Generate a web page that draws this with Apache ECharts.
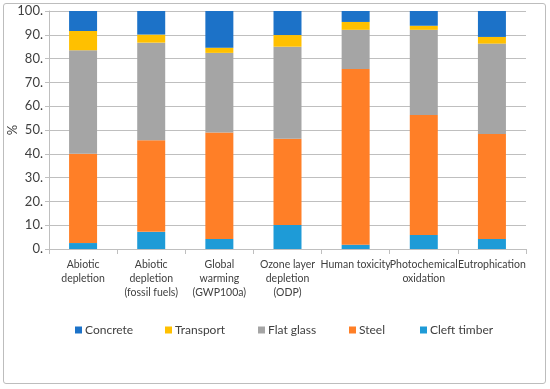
<!DOCTYPE html>
<html>
<head>
<meta charset="utf-8">
<script src="https://cdn.jsdelivr.net/npm/echarts@6/dist/echarts.min.js"></script>
<style>
html,body{margin:0;padding:0;background:#fff;}
#frame{position:absolute;left:3px;top:3px;width:543px;height:381px;border:1px solid #bdbdbd;border-radius:3px;box-sizing:border-box;}
#chart{position:absolute;left:0;top:0;width:550px;height:389px;}
</style>
</head>
<body>
<div id="frame"></div>
<div id="chart"></div>
<script>
const categories = ['Abiotic\ndepletion', 'Abiotic\ndepletion\n(fossil fuels)', 'Global\nwarming\n(GWP100a)', 'Ozone layer\ndepletion\n(ODP)', 'Human toxicity', 'Photochemical\noxidation', 'Eutrophication'];
const cleftTimber = [2.5, 7.2, 4.2, 10.1, 1.8, 5.9, 4.2];
const steel =       [37.5, 38.5, 44.7, 36.2, 73.8, 50.4, 44.1];
const flatGlass =   [43.5, 41.0, 33.5, 38.7, 16.5, 35.8, 38.0];
const transport =   [8.1, 3.4, 2.2, 4.9, 3.3, 1.7, 2.8];
const concrete =    [8.4, 9.9, 15.4, 10.1, 4.6, 6.2, 10.9];
const yTickLabels = ['0.', '10.', '20.', '30.', '40.', '50.', '60.', '70.', '80.', '90.', '100.'];
const legendOrder = ['Concrete', 'Transport', 'Flat glass', 'Steel', 'Cleft timber'];
const yAxisTitle = '%';

const font = 'Lato, "Noto Sans", sans-serif';
const legendLeft = [75, 165, 258, 349, 420];
const chart = echarts.init(document.getElementById('chart'));
function bar(name, data, color) {
  return { name, type: 'bar', stack: 'total', data, barWidth: 28,
    itemStyle: { color }, emphasis: { disabled: true } };
}
const legends = legendOrder.map((n, i) => ({
  data: [n], top: 324, left: legendLeft[i], icon: 'rect', padding: 0,
  itemWidth: 7, itemHeight: 7,
  textStyle: { fontFamily: font, fontSize: 12, color: '#404040', padding: [0,0,0,-2] }
}));
chart.setOption({
  animation: false,
  textStyle: { fontFamily: font },
  grid: { left: 49, right: 24, top: 11, bottom: 140, containLabel: false, outerBoundsMode: 'none' },
  legend: legends,
  graphic: [{
    type: 'text', x: 13, y: 130, rotation: Math.PI / 2, silent: true,
    style: { text: yAxisTitle, align: 'center', verticalAlign: 'middle',
      font: '13px Lato, "Noto Sans", sans-serif', fill: '#404040' }
  }],
  xAxis: {
    type: 'category', data: categories,
    axisLine: { lineStyle: { color: '#BFBFBF' } },
    axisTick: { show: true, length: 5, alignWithLabel: false, lineStyle: { color: '#BFBFBF' } },
    axisLabel: { interval: 0, color: '#404040', fontSize: 10.5, lineHeight: 14, margin: 9, fontFamily: font, hideOverlap: false }
  },
  yAxis: {
    type: 'value', min: 0, max: 100, interval: 10,
    axisLine: { show: true, lineStyle: { color: '#BFBFBF' } },
    axisTick: { show: true, length: 4, lineStyle: { color: '#BFBFBF' } },
    splitLine: { lineStyle: { color: '#BFBFBF' } },
    axisLabel: { color: '#404040', fontSize: 13, margin: 6, fontFamily: font,
      formatter: (v) => yTickLabels[Math.round(v / 10)] }
  },
  series: [
    bar('Cleft timber', cleftTimber, '#1E9BD7'),
    bar('Steel', steel, '#FF7F27'),
    bar('Flat glass', flatGlass, '#A5A5A5'),
    bar('Transport', transport, '#FFC000'),
    bar('Concrete', concrete, '#1C72C8')
  ]
});
</script>
</body>
</html>
